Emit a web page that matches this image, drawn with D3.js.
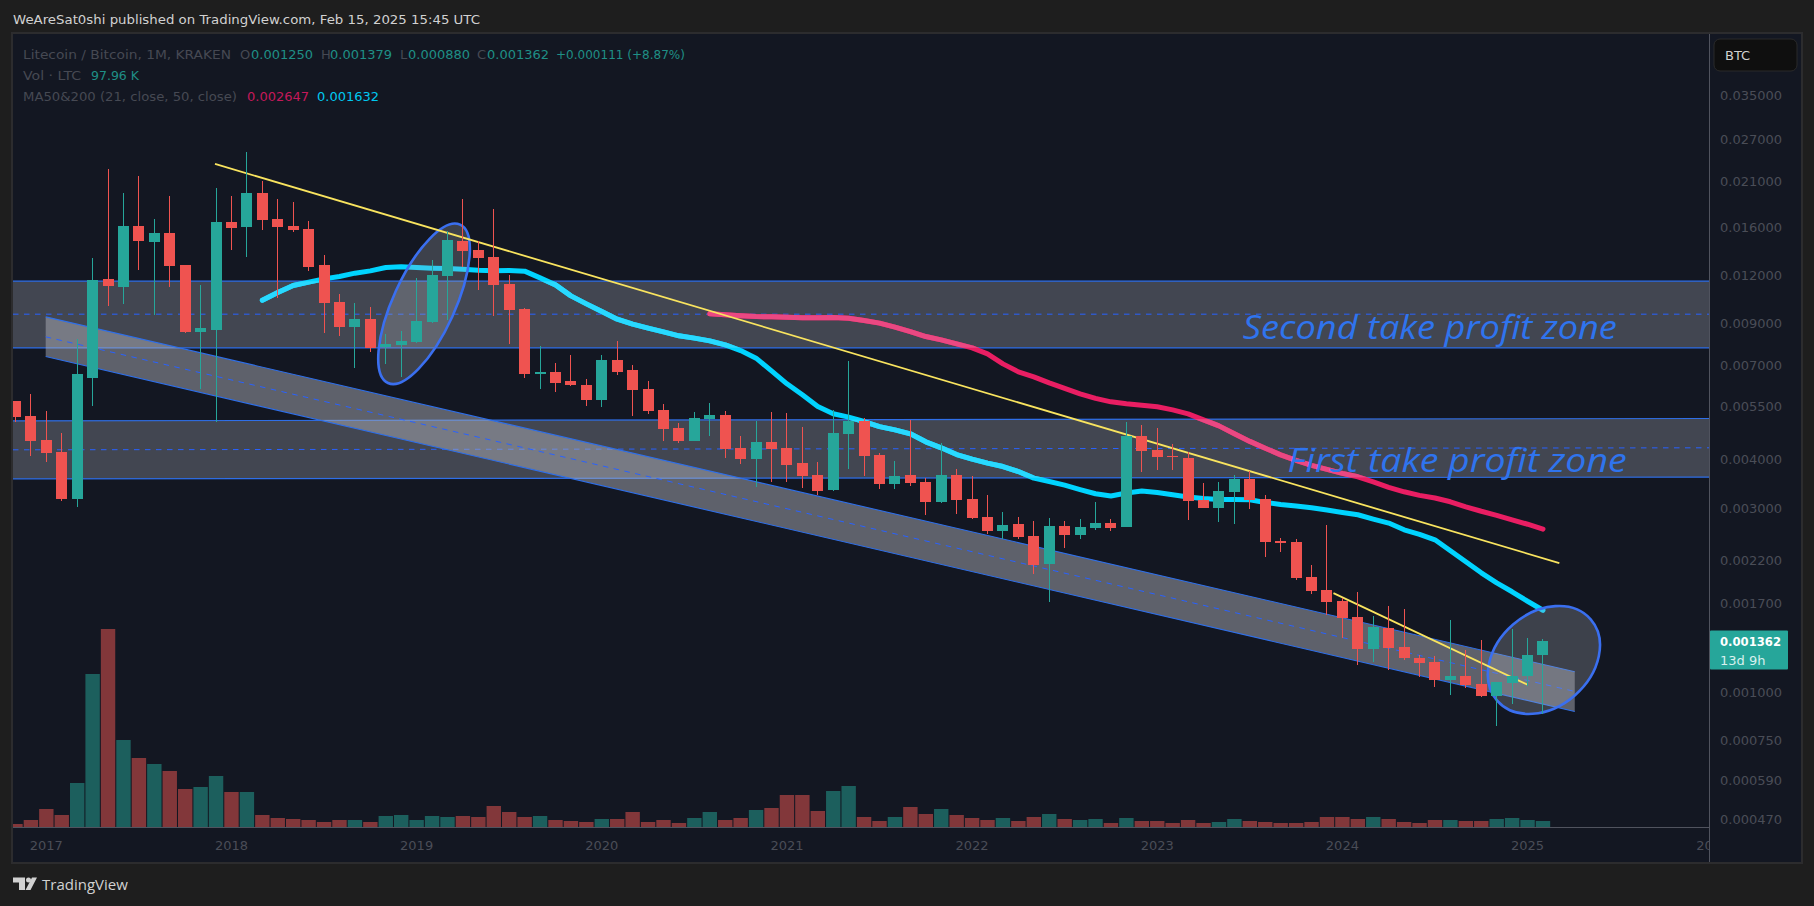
<!DOCTYPE html>
<html>
<head>
<meta charset="utf-8">
<title>LTC/BTC monthly</title>
<script src="https://d3js.org/d3.v7.min.js"></script>
<style>
  html, body { margin: 0; padding: 0; background: #1e1e1e; overflow: hidden; }
  svg { display: block; }
  text { font-family: "DejaVu Sans", sans-serif; }
</style>
</head>
<body>
<svg id="chart" width="1814" height="906"></svg>
<script>
// Monthly LTC/BTC candles, bar 0 is Nov 2016, bar 99 is Feb 2025.
var opens = [0.005685,0.005199,0.004506,0.004196,0.003171,0.006520,0.011760,0.011213,0.016127,0.014660,
  0.015468,0.012783,0.008576,0.008679,0.016515,0.016031,0.019630,0.016813,0.016127,0.015841,
  0.012783,0.010254,0.008835,0.009266,0.007843,0.007937,0.008080,0.009102,0.011972,0.014748,
  0.013978,0.013407,0.011415,0.009835,0.006677,0.006757,0.006404,0.006254,0.005719,0.007258,
  0.006838,0.006107,0.005388,0.004840,0.004480,0.005107,0.005230,0.004297,0.004024,0.004453,
  0.004297,0.003929,0.003658,0.003346,0.004670,0.005047,0.004121,0.003467,0.003658,0.003509,
  0.003115,0.003658,0.003171,0.002848,0.002620,0.002732,0.002544,0.002153,0.002700,0.002559,
  0.002668,0.002748,0.002684,0.004615,0.004246,0.004097,0.004048,0.003152,0.003005,0.003306,
  0.003572,0.003171,0.002469,0.002454,0.001992,0.001844,0.001727,0.001570,0.001297,0.001470,
  0.001313,0.001230,0.001201,0.001079,0.001105,0.001053,0.000980,0.001059,0.001105,0.001250];
var highs = [0.005685,0.005927,0.005356,0.004698,0.008226,0.013327,0.022648,0.019630,0.021722,0.016813,
  0.019282,0.012783,0.011347,0.020224,0.019282,0.025062,0.021085,0.018941,0.018606,0.016614,
  0.013568,0.010755,0.010193,0.009953,0.008474,0.008627,0.011830,0.013170,0.015653,0.018941,
  0.014748,0.017845,0.012044,0.009894,0.007889,0.007130,0.007478,0.006481,0.007478,0.008128,
  0.007045,0.006404,0.005584,0.004987,0.005325,0.005618,0.005356,0.004615,0.005047,0.005325,
  0.005293,0.004869,0.003953,0.005388,0.007215,0.005138,0.004171,0.003977,0.005077,0.003594,
  0.004427,0.003791,0.003637,0.003247,0.002935,0.002848,0.002781,0.002831,0.002781,0.002815,
  0.003115,0.002815,0.005017,0.004927,0.004840,0.004400,0.004196,0.003488,0.003509,0.003658,
  0.003747,0.003247,0.002513,0.002499,0.002140,0.002716,0.001758,0.001822,0.001579,0.001676,
  0.001646,0.001252,0.001245,0.001542,0.001290,0.001369,0.001066,0.001461,0.001385,0.001379];
var lows = [0.005017,0.004097,0.003953,0.003133,0.003023,0.005518,0.010012,0.010133,0.012408,0.009490,
  0.011213,0.008525,0.006107,0.005017,0.013978,0.013407,0.015747,0.010501,0.015561,0.012334,
  0.008525,0.008374,0.006920,0.007613,0.007087,0.006559,0.008032,0.009048,0.009211,0.012632,
  0.011014,0.009433,0.007984,0.006520,0.006107,0.005998,0.006217,0.005518,0.005486,0.006638,
  0.005199,0.005262,0.004480,0.004427,0.004480,0.004615,0.004048,0.003906,0.003406,0.003509,
  0.003509,0.003386,0.003247,0.003326,0.003791,0.003637,0.003366,0.003366,0.003426,0.002883,
  0.003096,0.002900,0.002815,0.002574,0.002499,0.002499,0.002028,0.001717,0.002368,0.002499,
  0.002636,0.002620,0.002684,0.003724,0.003769,0.003769,0.002798,0.003005,0.002765,0.002732,
  0.002987,0.002244,0.002312,0.001957,0.001800,0.001589,0.001385,0.001179,0.001201,0.001145,
  0.001215,0.001098,0.001035,0.000987,0.001029,0.000974,0.000820,0.000935,0.001041,0.000880];
var closes = [0.005168,0.004480,0.004171,0.003171,0.006677,0.011690,0.011280,0.016127,0.014748,0.015468,
  0.012707,0.008576,0.008783,0.016515,0.015936,0.019630,0.016713,0.016031,0.015747,0.012632,
  0.010193,0.008835,0.009266,0.007796,0.007984,0.008128,0.009157,0.012044,0.014836,0.013895,
  0.013327,0.011347,0.009777,0.006677,0.006757,0.006329,0.006254,0.005719,0.007258,0.006757,
  0.006070,0.005356,0.004812,0.004480,0.005138,0.005230,0.004271,0.004024,0.004453,0.004271,
  0.003883,0.003637,0.003326,0.004698,0.005047,0.004097,0.003467,0.003637,0.003488,0.003115,
  0.003658,0.003152,0.002831,0.002620,0.002716,0.002528,0.002140,0.002700,0.002559,0.002684,
  0.002748,0.002668,0.004615,0.004221,0.004072,0.004072,0.003133,0.003005,0.003326,0.003572,
  0.003152,0.002454,0.002440,0.001980,0.001833,0.001717,0.001561,0.001297,0.001479,0.001305,
  0.001230,0.001194,0.001079,0.001105,0.001047,0.000980,0.001066,0.001105,0.001252,0.001362];
// Volume in thousands of LTC.
var volumes = [54,119,299,200,722,2494,3228,1418,1125,1027,913,619,652,831,571,571,196,147,130,114,
  82,114,114,82,179,196,114,179,163,179,163,342,245,163,179,114,98,82,130,130,
  245,82,114,65,147,245,114,147,277,310,522,522,261,587,668,163,98,163,326,212,
  293,196,147,114,147,98,163,212,130,114,130,65,147,98,98,65,114,65,82,130,
  98,82,65,65,82,163,163,130,163,130,82,65,114,114,98,98,130,147,114,98];
// Moving averages, each one starts at its own bar.
var ma21Start = 16;
var ma21 = [0.010358,0.010838,0.011301,0.011531,0.011760,0.011923,0.012166,0.012334,0.012579,0.012632,
  0.012579,0.012535,0.012505,0.012460,0.012371,0.012334,0.012356,0.012312,0.011830,0.011347,
  0.010627,0.010133,0.009678,0.009250,0.008978,0.008767,0.008576,0.008374,0.008260,0.008128,
  0.007937,0.007672,0.007332,0.006798,0.006292,0.005892,0.005494,0.005265,0.005159,0.005026,
  0.004876,0.004783,0.004670,0.004453,0.004297,0.004127,0.004017,0.003922,0.003843,0.003731,
  0.003587,0.003515,0.003440,0.003351,0.003268,0.003223,0.003282,0.003320,0.003292,0.003247,
  0.003204,0.003177,0.003158,0.003158,0.003152,0.003103,0.003066,0.003037,0.003005,0.002965,
  0.002923,0.002883,0.002810,0.002744,0.002636,0.002566,0.002484,0.002326,0.002178,0.002040,
  0.001922,0.001822,0.001722,0.001632];
var ma50Start = 45;
var ma50 = [0.009547,0.009490,0.009433,0.009394,0.009377,0.009360,0.009322,0.009322,0.009338,0.009305,
  0.009173,0.009033,0.008821,0.008592,0.008339,0.008177,0.007984,0.007796,0.007521,0.007087,
  0.006757,0.006559,0.006329,0.006125,0.005927,0.005770,0.005651,0.005584,0.005534,0.005486,
  0.005388,0.005262,0.005077,0.004897,0.004670,0.004464,0.004285,0.004121,0.003988,0.003870,
  0.003780,0.003691,0.003615,0.003509,0.003396,0.003306,0.003237,0.003187,0.003115,0.003023,
  0.002944,0.002874,0.002798,0.002725,0.002647];

// Axis labels.
var yearLabels = ["2017","2018","2019","2020","2021","2022","2023","2024","2025","2026"];
var yearBars = [2,14,26,38,50,62,74,86,98,110];
var priceTicks = [0.035,0.027,0.021,0.016,0.012,0.009,0.007,0.0055,0.004,0.003,0.0022,0.0017,0.001,0.00075,0.00059,0.00047];

// Drawings, anchored on bar number and price.
var zoneUpper = [0.0116,0.009528,0.007796];
var zoneLowerLeft = [0.005047,0.004246,0.003572];
var zoneLowerRight = [0.005117,0.004297,0.003609];
var channelBars = [1.96,101.06];
var channelTop = [0.009377,0.001131];
var channelMid = [0.008324,0.001006];
var channelBottom = [0.007403,0.000893];
var trendBars = [12.93,100.06];
var trendPrices = [0.023332,0.002162];
var shortTrendBars = [85.42,98.01];
var shortTrendPrices = [0.001808,0.001047];
var ellipseBars = [26.48,99.06];
var ellipsePrices = [0.010133,0.0012136];

// Layout of the page.
var plotLeft = 13, plotRight = 1709, plotTop = 34, plotBottom = 827, frameRight = 1801, frameBottom = 862;

var svg = d3.select("#chart");

var x = d3.scaleLinear().domain([-0.16, 109.76]).range([plotLeft, plotRight]);
var y = d3.scaleLog().domain([0.0506, 0.0004485]).range([plotTop, plotBottom]);
var volumeY = d3.scaleLinear().domain([0, 3228]).range([plotBottom, 629]);

var colUp = "#26a69a", colDown = "#ef5350";
var colBlue = "#2f6fe8";

// Frame and background.
svg.append("rect").attr("x", plotLeft - 1).attr("y", plotTop - 1).attr("width", frameRight - plotLeft + 2).attr("height", frameBottom - plotTop + 2)
    .attr("fill", "#131722").attr("stroke", "#2c2c2e").attr("stroke-width", 2);

var defs = svg.append("defs");
defs.append("clipPath").attr("id", "plotClip").append("rect")
    .attr("x", plotLeft).attr("y", plotTop).attr("width", plotRight - plotLeft).attr("height", plotBottom - plotTop);
defs.append("clipPath").attr("id", "axisClip").append("rect")
    .attr("x", plotLeft).attr("y", plotBottom).attr("width", plotRight - plotLeft).attr("height", frameBottom - plotBottom);

var plot = svg.append("g").attr("clip-path", "url(#plotClip)");

// Volume bars sit at the bottom.
plot.append("g").selectAll("rect").data(volumes).join("rect")
    .attr("x", function (d, i) { return x(i) - 7.2; })
    .attr("width", 14.4)
    .attr("y", function (d) { return Math.round(volumeY(d)); })
    .attr("height", function (d) { return plotBottom - Math.round(volumeY(d)); })
    .attr("fill", function (d, i) { return closes[i] >= opens[i] ? "#1c5f5d" : "#82373a"; });

function zonePoints (leftPrices, rightPrices) {
    var left = x.domain()[0], right = x.domain()[1];
    var pts = [[left, leftPrices[0]], [right, rightPrices[0]], [right, rightPrices[2]], [left, leftPrices[2]]];
    return pts.map(function (p) { return x(p[0]) + "," + y(p[1]); }).join(" ");
}

// Horizontal zones.
function drawZone (leftPrices, rightPrices) {
    var left = x.domain()[0], right = x.domain()[1];
    plot.append("polygon").attr("points", zonePoints(leftPrices, rightPrices))
        .attr("fill", "rgba(120,123,134,0.47)");
    [0, 2].forEach(function (k) {
        plot.append("line").attr("x1", x(left)).attr("x2", x(right))
            .attr("y1", y(leftPrices[k])).attr("y2", y(rightPrices[k]))
            .attr("stroke", colBlue).attr("stroke-width", 1.2);
    });
    plot.append("line").attr("x1", x(left)).attr("x2", x(right))
        .attr("y1", y(leftPrices[1])).attr("y2", y(rightPrices[1]))
        .attr("stroke", "#2962ff").attr("stroke-width", 1).attr("stroke-dasharray", "5.5 5.5");
}
drawZone(zoneUpper, zoneUpper);
drawZone(zoneLowerLeft, zoneLowerRight);

// Moving averages, drawn again in a paler colour where they cross a zone.
defs.append("clipPath").attr("id", "zoneClip").selectAll("polygon")
    .data([[zoneUpper, zoneUpper], [zoneLowerLeft, zoneLowerRight]]).join("polygon")
    .attr("points", function (d) { return zonePoints(d[0], d[1]); });

function drawAverage (values, start, color, paleColor) {
    var line = d3.line()
        .x(function (d, i) { return x(start + i); })
        .y(function (d) { return y(d); });
    [color, paleColor].forEach(function (c, k) {
        var path = plot.append("path").attr("d", line(values))
            .attr("fill", "none").attr("stroke", c).attr("stroke-width", 5)
            .attr("stroke-linejoin", "round").attr("stroke-linecap", "round");
        if (k == 1) { path.attr("clip-path", "url(#zoneClip)"); }
    });
}
drawAverage(ma50, ma50Start, "#e91e63", "#ea4882");
drawAverage(ma21, ma21Start, "#00d4ff", "#29d9ff");

// Falling channel.
plot.append("polygon")
    .attr("points", [[0, channelTop[0]], [1, channelTop[1]], [1, channelBottom[1]], [0, channelBottom[0]]]
        .map(function (p) { return x(channelBars[p[0]]) + "," + y(p[1]); }).join(" "))
    .attr("fill", "rgba(178,181,190,0.47)");
[channelTop, channelBottom].forEach(function (edge) {
    plot.append("line").attr("x1", x(channelBars[0])).attr("x2", x(channelBars[1]))
        .attr("y1", y(edge[0])).attr("y2", y(edge[1]))
        .attr("stroke", colBlue).attr("stroke-width", 1.1);
});
plot.append("line").attr("x1", x(channelBars[0])).attr("x2", x(channelBars[1]))
    .attr("y1", y(channelMid[0])).attr("y2", y(channelMid[1]))
    .attr("stroke", "#2962ff").attr("stroke-width", 1).attr("stroke-dasharray", "5.5 5.5");

// Two hand drawn ellipses.
var ellipseSizes = [[87, 31, -65.5], [62, 47, -41]];
ellipseBars.forEach(function (bar, k) {
    plot.append("ellipse")
        .attr("rx", ellipseSizes[k][0]).attr("ry", ellipseSizes[k][1])
        .attr("transform", "translate(" + x(bar) + "," + y(ellipsePrices[k]) + ") rotate(" + ellipseSizes[k][2] + ")")
        .attr("fill", "rgba(178,181,190,0.27)")
        .attr("stroke", "#3a6ff0").attr("stroke-width", 2.6);
});

// Yellow trend lines.
function drawTrend (bars, prices) {
    plot.append("line").attr("x1", x(bars[0])).attr("x2", x(bars[1]))
        .attr("y1", y(prices[0])).attr("y2", y(prices[1]))
        .attr("stroke", "#f9e45f").attr("stroke-width", 1.8);
}
drawTrend(trendBars, trendPrices);
drawTrend(shortTrendBars, shortTrendPrices);

// Candles.
var candles = plot.append("g").selectAll("g").data(opens).join("g")
    .attr("fill", function (d, i) { return closes[i] >= opens[i] ? colUp : colDown; });
candles.append("rect")
    .attr("x", function (d, i) { return Math.floor(x(i)); })
    .attr("width", 1)
    .attr("y", function (d, i) { return Math.round(y(highs[i])); })
    .attr("height", function (d, i) { return Math.round(y(lows[i])) - Math.round(y(highs[i])); });
candles.append("rect")
    .attr("x", function (d, i) { return Math.floor(x(i)) - 5; })
    .attr("width", 11)
    .attr("y", function (d, i) { return Math.round(y(Math.max(opens[i], closes[i]))); })
    .attr("height", function (d, i) {
        return Math.max(1, Math.round(y(Math.min(opens[i], closes[i]))) - Math.round(y(Math.max(opens[i], closes[i]))));
    });

// Zone captions.
function drawCaption (label, bar, price, width) {
    svg.append("text").text(label)
        .attr("x", x(bar)).attr("y", y(price))
        .attr("textLength", width).attr("lengthAdjust", "spacingAndGlyphs")
        .style("font-family", "'Open Sans', sans-serif").style("font-style", "italic")
        .attr("font-size", 32).attr("fill", "#2f74ee");
}
drawCaption("Second take profit zone", 79.55, 0.008226, 374);
drawCaption("First take profit zone", 82.45, 0.003709, 339);

// Axis lines.
svg.append("line").attr("x1", plotLeft).attr("x2", plotRight).attr("y1", plotBottom + 0.5).attr("y2", plotBottom + 0.5).attr("stroke", "#50535e");
svg.append("line").attr("x1", plotRight + 0.5).attr("x2", plotRight + 0.5).attr("y1", plotTop).attr("y2", frameBottom).attr("stroke", "#50535e");

// Year labels, the last one is cut by the price axis.
svg.append("g").attr("clip-path", "url(#axisClip)").selectAll("text").data(yearLabels).join("text")
    .text(function (d) { return d; })
    .attr("x", function (d, i) { return x(yearBars[i]); })
    .attr("y", 850)
    .attr("text-anchor", "middle").attr("font-size", 13).attr("fill", "#4a4d57");

// Price labels.
svg.append("g").selectAll("text").data(priceTicks).join("text")
    .text(function (d) { return d3.format(".6f")(d); })
    .attr("x", 1720)
    .attr("y", function (d) { return y(d) + 4.5; })
    .attr("font-size", 13).attr("fill", "#4a4d57");

// Currency button.
svg.append("rect").attr("x", 1714).attr("y", 39).attr("width", 83).attr("height", 32).attr("rx", 6)
    .attr("fill", "#0f0f0f").attr("stroke", "#2a2a2a");
svg.append("text").text("BTC").attr("x", 1725).attr("y", 60).attr("font-size", 13).attr("fill", "#d1d1d1");

// Last price badge.
var lastY = y(closes[closes.length - 1]);
svg.append("rect").attr("x", 1710).attr("y", lastY - 10).attr("width", 78).attr("height", 39).attr("rx", 1).attr("fill", colUp);
svg.append("text").text(d3.format(".6f")(closes[closes.length - 1])).attr("x", 1720).attr("y", lastY + 5.5)
    .attr("font-size", 13).attr("font-weight", "bold").attr("textLength", 61).attr("lengthAdjust", "spacingAndGlyphs").attr("fill", "#ffffff");
svg.append("text").text("13d 9h").attr("x", 1720).attr("y", lastY + 24).attr("font-size", 13).attr("fill", "#d8f0ee");

// Header line.
svg.append("text").text("WeAreSat0shi published on TradingView.com, Feb 15, 2025 15:45 UTC")
    .attr("x", 13).attr("y", 24).attr("font-size", 13).attr("textLength", 467).attr("lengthAdjust", "spacingAndGlyphs").attr("fill", "#d1d1d1");

// Legend rows, the last field is the width of the text in the reference when it differs from the font.
var legendGrey = "#464953", legendGreen = "#1f8f86";
var legendItems = [
    ["Litecoin / Bitcoin, 1M, KRAKEN", 23, 59, legendGrey, 208],
    ["O", 240, 59, legendGrey], ["0.001250", 251, 59, legendGreen],
    ["H", 321, 59, legendGrey], ["0.001379", 330, 59, legendGreen],
    ["L", 400, 59, legendGrey], ["0.000880", 408, 59, legendGreen],
    ["C", 477, 59, legendGrey], ["0.001362", 487, 59, legendGreen],
    ["+0.000111 (+8.87%)", 556, 59, legendGreen, 129],
    ["Vol · LTC", 23, 80, legendGrey, 58], ["97.96 K", 91, 80, legendGreen, 48],
    ["MA50&200 (21, close, 50, close)", 23, 101, legendGrey, 214],
    ["0.002647", 247, 101, "#c4195a"], ["0.001632", 317, 101, "#00c8f0"]
];
svg.append("g").selectAll("text").data(legendItems).join("text")
    .text(function (d) { return d[0]; })
    .attr("x", function (d) { return d[1]; })
    .attr("y", function (d) { return d[2]; })
    .attr("textLength", function (d) { return d[4] || null; })
    .attr("lengthAdjust", "spacingAndGlyphs")
    .attr("font-size", 13)
    .attr("fill", function (d) { return d[3]; });

// TradingView mark at the bottom.
svg.append("path").attr("d", "M13 877.5H25V890H19V882.5H13Z M32 877.5H37L30.5 890H25.5Z").attr("fill", "#d1d1d1");
svg.append("circle").attr("cx", 28.5).attr("cy", 880).attr("r", 2.5).attr("fill", "#d1d1d1");
svg.append("text").text("TradingView").attr("x", 42).attr("y", 890)
    .style("font-family", "'Open Sans', sans-serif").attr("font-size", 15).attr("fill", "#d1d1d1");
</script>
</body>
</html>
